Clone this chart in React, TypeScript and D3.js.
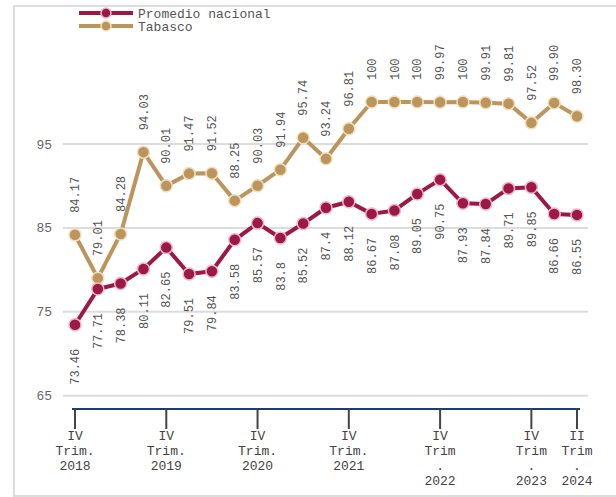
import * as d3 from "d3";
import { useEffect, useRef } from "react";

const quarters = [
	"IV-2018", "I-2019", "II-2019", "III-2019", "IV-2019",
	"I-2020", "II-2020", "III-2020", "IV-2020",
	"I-2021", "II-2021", "III-2021", "IV-2021",
	"I-2022", "II-2022", "III-2022", "IV-2022",
	"I-2023", "II-2023", "III-2023", "IV-2023",
	"I-2024", "II-2024",
];

const nacional = [
	73.46, 77.71, 78.38, 80.11, 82.65, 79.51, 79.84, 83.58, 85.57, 83.8, 85.52,
	87.4, 88.12, 86.67, 87.08, 89.05, 90.75, 87.93, 87.84, 89.71, 89.85, 86.66,
	86.55,
];

const tabasco = [
	84.17, 79.01, 84.28, 94.03, 90.01, 91.47, 91.52, 88.25, 90.03, 91.94, 95.74,
	93.24, 96.81, 100, 100, 100, 99.97, 100, 99.91, 99.81, 97.52, 99.9, 98.3,
];

// labels as shown in the source (some keep trailing zeros)
const tabascoLabels = [
	"84.17", "79.01", "84.28", "94.03", "90.01", "91.47", "91.52", "88.25",
	"90.03", "91.94", "95.74", "93.24", "96.81", "100", "100", "100", "99.97",
	"100", "99.91", "99.81", "97.52", "99.90", "98.30",
];

const yTicks = [65, 75, 85, 95];

const xTicks = ["IV-2018", "IV-2019", "IV-2020", "IV-2021", "IV-2022", "IV-2023", "II-2024"];
const xTickLabels = [
	["IV", "Trim.", "2018"],
	["IV", "Trim.", "2019"],
	["IV", "Trim.", "2020"],
	["IV", "Trim.", "2021"],
	["IV", "Trim", ".", "2022"],
	["IV", "Trim", ".", "2023"],
	["II", "Trim", ".", "2024"],
];

const series = [
	{ name: "Tabasco", values: tabasco, labels: tabascoLabels, color: "#bc955c", stroke: "#f1dfbd", above: true },
	{ name: "Promedio nacional", values: nacional, labels: nacional.map(String), color: "#9b1847", stroke: "#f2b6c8", above: false },
];

const FONT = "'Liberation Mono', 'Courier New', monospace";

export default function App() {
	const svgRef = useRef<SVGSVGElement>(null);

	useEffect(() => {
		const svg = d3.select(svgRef.current);
		if (!svg.node()) return;
		svg.selectAll("*").remove();

		const x = d3.scalePoint<string>().domain(quarters).range([75, 577]);
		const y = d3.scaleLinear().domain([65, 95]).range([395.7, 144]);

		// outer frame
		svg
			.append("rect")
			.attr("x", 14)
			.attr("y", 6)
			.attr("width", 640)
			.attr("height", 490)
			.attr("fill", "none")
			.attr("stroke", "#dddddd")
			.attr("stroke-width", 2);

		// gridlines + y labels
		const gy = svg.append("g");
		yTicks.forEach((t) => {
			gy.append("line")
				.attr("x1", 63)
				.attr("x2", 588)
				.attr("y1", y(t))
				.attr("y2", y(t))
				.attr("stroke", "#dcdcdc")
				.attr("stroke-width", 2);
			gy.append("text")
				.attr("x", 52)
				.attr("y", y(t))
				.attr("dy", "0.35em")
				.attr("text-anchor", "end")
				.attr("fill", "#666")
				.style("font-family", FONT)
				.style("font-size", "13px")
				.text(String(t));
		});

		// x axis
		const axisY = 409;
		const gx = svg.append("g");
		gx.append("line")
			.attr("x1", 72)
			.attr("x2", 580)
			.attr("y1", axisY)
			.attr("y2", axisY)
			.attr("stroke", "#1f3b70")
			.attr("stroke-width", 2);
		xTicks.forEach((q, i) => {
			const px = x(q) ?? 0;
			gx.append("line")
				.attr("x1", px)
				.attr("x2", px)
				.attr("y1", axisY)
				.attr("y2", axisY + 20)
				.attr("stroke", "#444")
				.attr("stroke-width", 2);
			const t = gx
				.append("text")
				.attr("text-anchor", "middle")
				.attr("fill", "#444")
				.style("font-family", FONT)
				.style("font-size", "13px");
			xTickLabels[i].forEach((line, j) => {
				t.append("tspan")
					.attr("x", px)
					.attr("y", axisY + 31 + j * 15)
					.text(line);
			});
		});

		// series
		series.forEach((s) => {
			const g = svg.append("g");
			const line = d3
				.line<number>()
				.x((_, i) => x(quarters[i]) ?? 0)
				.y((d) => y(d));
			g.append("path")
				.datum(s.values)
				.attr("d", line)
				.attr("fill", "none")
				.attr("stroke", s.color)
				.attr("stroke-width", 4)
				.attr("stroke-linejoin", "round");
			g.selectAll("circle")
				.data(s.values)
				.join("circle")
				.attr("cx", (_, i) => x(quarters[i]) ?? 0)
				.attr("cy", (d) => y(d))
				.attr("r", 6)
				.attr("fill", s.color)
				.attr("stroke", s.stroke)
				.attr("stroke-width", 1.5);
			g.selectAll("text")
				.data(s.values)
				.join("text")
				.attr("transform", (d, i) => {
					const px = x(quarters[i]) ?? 0;
					const py = s.above ? y(d) - 22 : y(d) + 24;
					return `translate(${px},${py}) rotate(-90)`;
				})
				.attr("dy", "0.35em")
				.attr("text-anchor", s.above ? "start" : "end")
				.attr("fill", "#555")
				.style("font-family", FONT)
				.style("font-size", "12px")
				.text((_, i) => s.labels[i]);
		});

		// legend
		const legend = [series[1], series[0]];
		legend.forEach((s, i) => {
			const ly = 13 + i * 13;
			svg.append("line")
				.attr("x1", 79)
				.attr("x2", 133)
				.attr("y1", ly)
				.attr("y2", ly)
				.attr("stroke", s.color)
				.attr("stroke-width", 4);
			svg.append("circle")
				.attr("cx", 106)
				.attr("cy", ly)
				.attr("r", 5)
				.attr("fill", s.color)
				.attr("stroke", s.stroke)
				.attr("stroke-width", 1.5);
			svg.append("text")
				.attr("x", 138)
				.attr("y", ly)
				.attr("dy", "0.35em")
				.attr("fill", "#555")
				.style("font-family", FONT)
				.style("font-size", "13px")
				.text(s.name);
		});
	}, []);

	return (
		<div style={{ position: "fixed", left: 0, top: 0, width: 616, height: 497, background: "#fff" }}>
			<svg ref={svgRef} width={616} height={497} />
		</div>
	);
}
